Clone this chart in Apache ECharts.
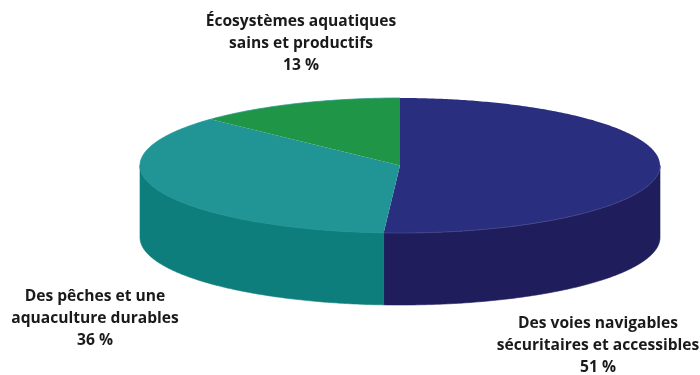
<!DOCTYPE html>
<html lang="fr">
<head>
<meta charset="utf-8">
<title>Répartition</title>
<script src="https://cdn.jsdelivr.net/npm/echarts@6/dist/echarts.min.js"></script>
<style>html,body{margin:0;padding:0;background:#fff}#c{width:700px;height:375px}</style>
</head>
<body>
<div id="c"></div>
<script>
// Shares, in percent, going clockwise from twelve o'clock
const labels = [
  'Des voies navigables\nsécuritaires et accessibles',
  'Des pêches et une\naquaculture durables',
  'Écosystèmes aquatiques\nsains et productifs'
];
const shares = [51, 36, 13];
const topColors = ['#2a2e7e', '#219496', '#1f9548'];
const wallColors = ['#1f1d5c', '#0e7e7c', '#177a3a'];
const rimColors = ['#45488c', '#219496', '#2a9a8e'];
const labelAnchors = [[598, 346], [95, 319], [301, 44]];

// Disc geometry of the tilted pie
const CX = 400, CY = 165.5, RX = 260, RY = 67.5, DEPTH = 72;
const total = shares.reduce((a, b) => a + b, 0);

function arcPoints(a0, a1, dy) {
  const n = Math.max(2, Math.ceil((a1 - a0) / 0.01));
  const pts = [];
  for (let i = 0; i <= n; i++) {
    const a = a0 + (a1 - a0) * i / n;
    pts.push([CX + RX * Math.sin(a), CY - RY * Math.cos(a) + dy]);
  }
  return pts;
}

function renderSlice(params, api) {
  const idx = params.dataIndex;
  const before = shares.slice(0, idx).reduce((a, b) => a + b, 0);
  const a0 = before / total * 2 * Math.PI;
  const a1 = (before + api.value(0)) / total * 2 * Math.PI;
  const children = [];

  // The rim is only visible along the front half of the disc
  const w0 = Math.max(a0, Math.PI / 2), w1 = Math.min(a1, 3 * Math.PI / 2);
  if (w1 > w0) {
    const upper = arcPoints(w0, w1, 0);
    const lower = arcPoints(w0, w1, DEPTH).reverse();
    children.push({
      type: 'polygon',
      z2: 1,
      shape: { points: upper.concat(lower) },
      style: { fill: wallColors[idx], stroke: wallColors[idx], lineWidth: 0.6 }
    });
  }
  children.push({
    type: 'polygon',
    z2: 2,
    shape: { points: [[CX, CY]].concat(arcPoints(a0, a1, 0)) },
    style: { fill: topColors[idx] }
  });
  // Thin highlight on the front edge of the blue face and the back edge of the green one
  const edgeStart = idx === 0 ? Math.max(a0, Math.PI / 2) : a0;
  children.push({
    type: 'polyline',
    z2: 3,
    shape: { points: arcPoints(edgeStart, a1, 0) },
    style: { fill: 'none', stroke: rimColors[idx], lineWidth: 0.8 }
  });
  const pos = labelAnchors[idx];
  children.push({
    type: 'text',
    z2: 4,
    x: pos[0],
    y: pos[1],
    style: {
      text: labels[idx] + '\n' + api.value(0) + ' %',
      fill: '#1a1a1a',
      font: '700 15.6px "Open Sans"',
      lineHeight: 22,
      align: 'center',
      verticalAlign: 'middle'
    }
  });
  return { type: 'group', children };
}

const chart = echarts.init(document.getElementById('c'), null, { renderer: 'canvas' });
chart.setOption({
  animation: false,
  backgroundColor: '#ffffff',
  series: [{
    type: 'custom',
    coordinateSystem: 'none',
    renderItem: renderSlice,
    data: shares.map(v => [v]),
    silent: true
  }]
});
</script>
</body>
</html>
